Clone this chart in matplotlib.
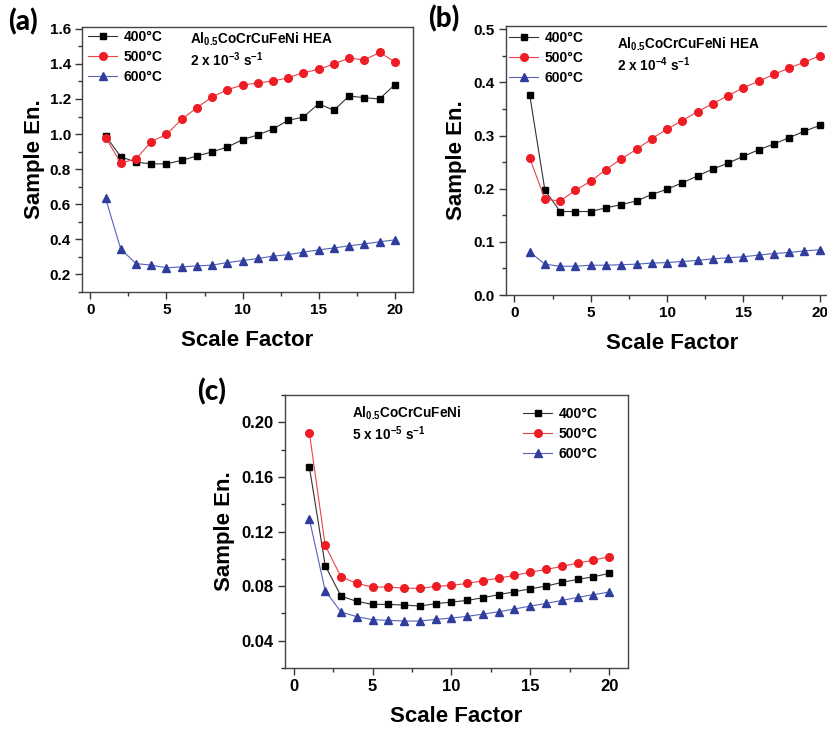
import matplotlib
matplotlib.use("Agg")
import matplotlib.pyplot as plt
from matplotlib.ticker import MultipleLocator, FormatStrFormatter

plt.rcParams['font.family'] = ['Liberation Sans', 'DejaVu Sans']
plt.rcParams['font.weight'] = 'bold'
plt.rcParams['mathtext.fontset'] = 'custom'
plt.rcParams['mathtext.rm'] = 'Liberation Sans:bold'
plt.rcParams['mathtext.bf'] = 'Liberation Sans:bold'
plt.rcParams['mathtext.it'] = 'Liberation Sans:bold'
plt.rcParams['mathtext.default'] = 'bf'

scale = list(range(1, 21))
series_labels = ["400°C", "500°C", "600°C"]

# Panel (a): 2 x 10^-3 s^-1
a_400 = [0.99, 0.87, 0.84, 0.83, 0.83, 0.85, 0.875, 0.898, 0.926, 0.968,
         0.995, 1.029, 1.078, 1.097, 1.173, 1.135, 1.217, 1.207, 1.200, 1.281]
a_500 = [0.98, 0.835, 0.858, 0.957, 0.998, 1.084, 1.150, 1.211, 1.253, 1.279,
         1.291, 1.302, 1.321, 1.350, 1.368, 1.399, 1.433, 1.422, 1.465, 1.412]
a_600 = [0.634, 0.344, 0.262, 0.253, 0.238, 0.243, 0.249, 0.253, 0.268, 0.279,
         0.291, 0.304, 0.313, 0.327, 0.340, 0.351, 0.363, 0.374, 0.386, 0.397]

# Panel (b): 2 x 10^-4 s^-1
b_400 = [0.377, 0.197, 0.157, 0.157, 0.157, 0.164, 0.170, 0.177, 0.189, 0.199,
         0.211, 0.224, 0.237, 0.248, 0.261, 0.273, 0.284, 0.296, 0.308, 0.319]
b_500 = [0.258, 0.180, 0.177, 0.197, 0.214, 0.236, 0.256, 0.274, 0.294, 0.312,
         0.328, 0.345, 0.360, 0.375, 0.390, 0.402, 0.415, 0.427, 0.438, 0.450]
b_600 = [0.081, 0.058, 0.054, 0.054, 0.056, 0.056, 0.057, 0.058, 0.060, 0.061,
         0.063, 0.065, 0.068, 0.070, 0.072, 0.075, 0.078, 0.080, 0.083, 0.085]

# Panel (c): 5 x 10^-5 s^-1
c_400 = [0.167, 0.095, 0.0727, 0.0688, 0.0666, 0.0666, 0.0661, 0.0654, 0.0671, 0.0683,
         0.0695, 0.0715, 0.0737, 0.0759, 0.0780, 0.0800, 0.0827, 0.0849, 0.0868, 0.0893]
c_500 = [0.192, 0.1098, 0.0868, 0.0820, 0.0793, 0.0793, 0.0785, 0.0783, 0.0798, 0.0805,
         0.0820, 0.0839, 0.0859, 0.0878, 0.0902, 0.0922, 0.0944, 0.0968, 0.0990, 0.1015]
c_600 = [0.1288, 0.0766, 0.0610, 0.0576, 0.0554, 0.0549, 0.0544, 0.0544, 0.0556, 0.0566,
         0.0578, 0.0595, 0.0612, 0.0632, 0.0654, 0.0673, 0.0695, 0.0717, 0.0737, 0.0756]

W, H = 828, 730
fig = plt.figure(figsize=(W / 100, H / 100), dpi=100)

def rect(left, top, right, bottom):
    return [left / W, 1 - bottom / H, (right - left) / W, (bottom - top) / H]

styles = [
    dict(color='#333333', marker='s', mfc='#000000', mec='#000000', ms=5),
    dict(color='#e8434b', marker='o', mfc='#ee1c24', mec='#ee1c24', ms=5.5),
    dict(color='#5563b8', marker='^', mfc='#2f3d9c', mec='#2f3d9c', ms=6),
]

def panel(box, data, ylim, ymaj, ymin, yfmt, tick_size, ylab_off, letter, letter_xy,
          note1, note2, note_xy, leg_anchor):
    ax = fig.add_axes(rect(*box))
    for vals, lab, st in zip(data, series_labels, styles):
        ax.plot(scale, vals, lw=0.8, label=lab, **st)
    ax.set_xlim(-0.55, 21.2)
    ax.set_ylim(*ylim)
    ax.xaxis.set_major_locator(MultipleLocator(5))
    ax.xaxis.set_minor_locator(MultipleLocator(2.5))
    ax.yaxis.set_major_locator(MultipleLocator(ymaj))
    ax.yaxis.set_minor_locator(MultipleLocator(ymin))
    ax.yaxis.set_major_formatter(FormatStrFormatter(yfmt))
    ax.tick_params(which='both', direction='out', top=False, right=False,
                   color='#333333', width=1.0)
    ax.tick_params(which='major', length=5, labelsize=tick_size, pad=3)
    ax.tick_params(which='minor', length=3)
    for lab in ax.get_xticklabels() + ax.get_yticklabels():
        lab.set_fontweight('bold')
    for sp in ax.spines.values():
        sp.set_color('#444444')
        sp.set_linewidth(1.0)
    ax.set_xlabel('Scale Factor', fontsize=16, fontweight='bold')
    ax.set_ylabel('Sample En.', fontsize=16, fontweight='bold')
    left, top, right, bottom = box
    wpx, hpx = right - left, bottom - top
    ax.xaxis.set_label_coords(0.5, -(48.0 / hpx))
    ax.xaxis.label.set_va('center')
    ax.yaxis.set_label_coords(-(ylab_off / wpx), 0.5)
    ax.yaxis.label.set_va('center')
    fig.text(letter_xy[0] / W, 1 - letter_xy[1] / H, letter, fontsize=20,
             fontweight='black', family=['Lato', 'DejaVu Sans'],
             ha='center', va='center')
    ax.text((note_xy[0] - left) / wpx, 1 - (note_xy[1] - top) / hpx, note1,
            transform=ax.transAxes, fontsize=9.8, ha='left', va='center')
    ax.text((note_xy[0] - left) / wpx, 1 - (note_xy[1] + 21 - top) / hpx, note2,
            transform=ax.transAxes, fontsize=9.8, ha='left', va='center')
    ax.legend(loc='upper left', bbox_to_anchor=((leg_anchor[0] - left) / wpx,
                                                1 - (leg_anchor[1] - top) / hpx),
              frameon=False, fontsize=10, numpoints=1, handlelength=2.1,
              handletextpad=0.45, labelspacing=0.42, borderpad=0,
              borderaxespad=0)
    return ax

panel((82, 27, 413, 292), [a_400, a_500, a_600], (0.1, 1.61), 0.2, 0.1, '%.1f',
      11, 47, '(a)', (23, 22),
      r'Al$_{0.5}$CoCrCuFeNi HEA', r'2 x 10$^{-3}$ s$^{-1}$', (190, 39),
      (88, 30))

panel((506, 26, 838, 295), [b_400, b_500, b_600], (0.0, 0.506), 0.1, 0.05, '%.1f',
      11, 49, '(b)', (444, 19),
      r'Al$_{0.5}$CoCrCuFeNi HEA', r'2 x 10$^{-4}$ s$^{-1}$', (617, 44),
      (509, 31))

panel((285, 395, 628, 668), [c_400, c_500, c_600], (0.02, 0.22), 0.04, 0.02, '%.2f',
      12, 60, '(c)', (212, 392),
      r'Al$_{0.5}$CoCrCuFeNi', r'5 x 10$^{-5}$ s$^{-1}$', (352, 413),
      (523, 407))

fig.savefig('out.png', dpi=100)
